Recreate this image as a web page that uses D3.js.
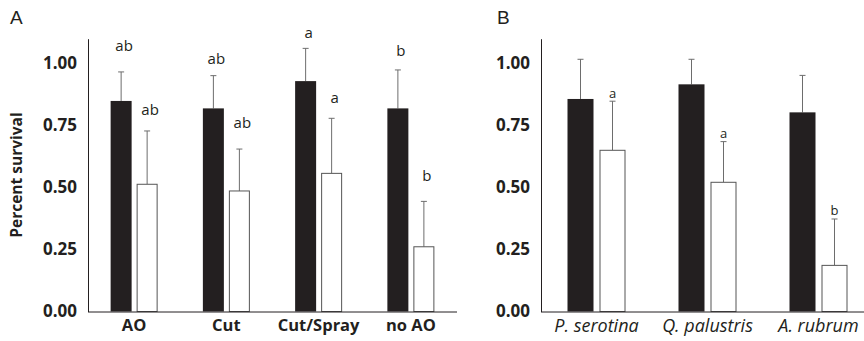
<!DOCTYPE html>
<html>
<head>
<meta charset="utf-8">
<script src="https://cdn.jsdelivr.net/npm/d3@7"></script>
<style>
  body { margin: 0; background: #fff; }
  svg { display: block; }
</style>
</head>
<body>
<svg width="864" height="341"></svg>
<script>
// panel A: treatments
var treatments = ["AO", "Cut", "Cut/Spray", "no AO"];
var treatBlack = [0.849, 0.819, 0.929, 0.819];
var treatBlackErr = [0.117, 0.132, 0.132, 0.155];
var treatWhite = [0.513, 0.486, 0.557, 0.261];
var treatWhiteErr = [0.215, 0.169, 0.222, 0.183];
var treatBlackLetters = ["ab", "ab", "a", "b"];
var treatBlackLetterAt = [1.072, 1.021, 1.122, 1.052];
var treatWhiteLetters = ["ab", "ab", "a", "b"];
var treatWhiteLetterAt = [0.815, 0.761, 0.860, 0.546];

// panel B: species
var species = ["P. serotina", "Q. palustris", "A. rubrum"];
var specBlack = [0.857, 0.916, 0.803];
var specBlackErr = [0.160, 0.101, 0.149];
var specWhite = [0.650, 0.521, 0.186];
var specWhiteErr = [0.198, 0.164, 0.187];
var specWhiteLetters = ["a", "a", "b"];
var specWhiteLetterAt = [0.880, 0.719, 0.406];

var yTicks = [0, 0.25, 0.5, 0.75, 1.0];

var svg = d3.select("svg");
var tickFont = "'Open Sans', sans-serif";

// shared y scale
var y = d3.scaleLinear().domain([0, 1.1]).range([311.5, 38.7]);

function panel(opts) {
  var g = svg.append("g");
  var x = d3.scaleBand().domain(opts.cats).range(opts.xRange).paddingInner(0).paddingOuter(0);
  var bw = opts.barWidth, gap = opts.gap;

  var rows = opts.cats.map(function(c, i) {
    return {cat: c, black: opts.black[i], blackErr: opts.blackErr[i],
            white: opts.white[i], whiteErr: opts.whiteErr[i], i: i};
  });

  function bx(d) { return x(d.cat) + x.bandwidth() / 2 - gap / 2 - bw; }
  function wx(d) { return x(d.cat) + x.bandwidth() / 2 + gap / 2; }

  // error bars (drawn first so bars sit on top)
  [["black", "blackErr", bx], ["white", "whiteErr", wx]].forEach(function(s) {
    var eg = g.append("g").selectAll("g").data(rows).enter().append("g");
    eg.append("line")
      .attr("x1", function(d) { return s[2](d) + bw / 2; })
      .attr("x2", function(d) { return s[2](d) + bw / 2; })
      .attr("y1", function(d) { return y(d[s[0]]); })
      .attr("y2", function(d) { return y(d[s[0]] + d[s[1]]); })
      .attr("stroke", "#6d6d6d").attr("stroke-width", 1);
    eg.append("line")
      .attr("x1", function(d) { return s[2](d) + bw / 2 - 3; })
      .attr("x2", function(d) { return s[2](d) + bw / 2 + 3; })
      .attr("y1", function(d) { return y(d[s[0]] + d[s[1]]); })
      .attr("y2", function(d) { return y(d[s[0]] + d[s[1]]); })
      .attr("stroke", "#6d6d6d").attr("stroke-width", 1);
  });

  g.append("g").selectAll("rect").data(rows).enter().append("rect")
    .attr("x", bx)
    .attr("y", function(d) { return y(d.black); })
    .attr("width", bw)
    .attr("height", function(d) { return y(0) - y(d.black); })
    .attr("fill", "#231f20");

  g.append("g").selectAll("rect").data(rows).enter().append("rect")
    .attr("x", function(d) { return wx(d) + 0.5; })
    .attr("y", function(d) { return y(d.white); })
    .attr("width", bw - 1)
    .attr("height", function(d) { return y(0) - y(d.white); })
    .attr("fill", "#fff")
    .attr("stroke", "#555").attr("stroke-width", 1);

  // significance letters
  if (opts.blackLetters) {
    g.append("g").selectAll("text").data(rows).enter().append("text")
      .attr("x", function(d) { return bx(d) + bw / 2 + opts.letterShift; })
      .attr("y", function(d) { return y(opts.blackLetterAt[d.i]); })
      .attr("dy", "0.35em")
      .attr("text-anchor", "middle")
      .attr("font-family", tickFont)
      .attr("font-size", opts.letterSize)
      .attr("fill", "#231f20")
      .text(function(d) { return opts.blackLetters[d.i]; });
  }
  g.append("g").selectAll("text").data(rows).enter().append("text")
    .attr("x", function(d) { return wx(d) + bw / 2 + opts.letterShift; })
    .attr("y", function(d) { return y(opts.whiteLetterAt[d.i]); })
    .attr("dy", "0.35em")
    .attr("text-anchor", "middle")
    .attr("font-family", tickFont)
    .attr("font-size", opts.letterSize)
    .attr("fill", "#231f20")
    .text(function(d) { return opts.whiteLetters[d.i]; });

  // y axis
  var ya = g.append("g")
    .attr("transform", "translate(" + opts.xRange[0] + ",0)")
    .call(d3.axisLeft(y).tickValues(yTicks).tickFormat(d3.format(".2f")).tickSize(0).tickPadding(11));
  ya.select(".domain").attr("stroke", "#231f20");
  ya.selectAll("text")
    .attr("font-family", tickFont).attr("font-weight", "bold")
    .attr("font-size", 17).attr("fill", "#231f20");

  // x axis
  var xa = g.append("g")
    .attr("transform", "translate(0," + y(0) + ")")
    .call(d3.axisBottom(x).tickSize(0).tickPadding(8));
  xa.select(".domain").attr("d", "M" + opts.xRange[0] + ",0.5H" + opts.xEnd).attr("stroke", "#231f20");
  xa.selectAll("text")
    .attr("font-family", tickFont)
    .attr("font-weight", opts.catWeight)
    .attr("font-style", opts.catStyle)
    .attr("font-size", opts.catSize)
    .attr("fill", "#231f20");

  svg.append("text")
    .attr("x", opts.tag[0]).attr("y", opts.tag[1])
    .attr("font-family", "'Liberation Sans', Arial, sans-serif")
    .attr("font-size", 19).attr("fill", "#231f20")
    .text(opts.tagText);
}

panel({
  cats: treatments, black: treatBlack, blackErr: treatBlackErr,
  white: treatWhite, whiteErr: treatWhiteErr,
  blackLetters: treatBlackLetters, blackLetterAt: treatBlackLetterAt,
  whiteLetters: treatWhiteLetters, whiteLetterAt: treatWhiteLetterAt,
  xRange: [88, 457], xEnd: 457, barWidth: 21, gap: 5, letterShift: 3, letterSize: 15,
  catWeight: "bold", catStyle: "normal", catSize: 16.5,
  tag: [10, 24], tagText: "A"
});

panel({
  cats: species, black: specBlack, blackErr: specBlackErr,
  white: specWhite, whiteErr: specWhiteErr,
  whiteLetters: specWhiteLetters, whiteLetterAt: specWhiteLetterAt,
  xRange: [541, 874], xEnd: 864, barWidth: 26, gap: 6, letterShift: 0, letterSize: 13,
  catWeight: "normal", catStyle: "italic", catSize: 18,
  tag: [497, 24], tagText: "B"
});

svg.append("text")
  .attr("transform", "translate(22,175) rotate(-90)")
  .attr("text-anchor", "middle")
  .attr("font-family", tickFont)
  .attr("font-weight", "bold")
  .attr("font-size", 15.5)
  .attr("fill", "#231f20")
  .text("Percent survival");
</script>
</body>
</html>
